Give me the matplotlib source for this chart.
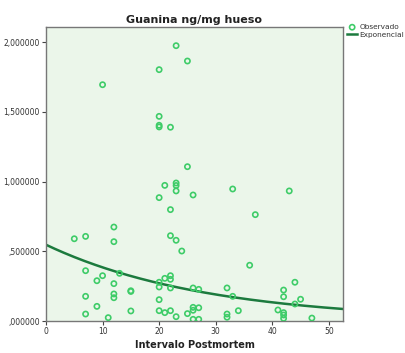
import numpy as np
import matplotlib
matplotlib.use("Agg")
import matplotlib.pyplot as plt
from matplotlib.ticker import FuncFormatter

# Observed data (Intervalo Postmortem, Guanina ng/mg hueso)
pmi = [5, 7, 12, 12, 7, 9, 10, 12, 13, 7, 12, 12, 15, 15, 9, 7, 11, 15,
       10,
       20, 20, 20, 22, 23, 25, 20,
       25, 23, 23, 23, 21, 20, 26, 22, 33, 43, 37,
       22, 23, 24, 21, 22, 22, 20, 20, 22, 20, 20, 21, 22, 23, 25,
       26, 27, 26, 26, 27, 26, 27, 32, 33, 32, 32, 34,
       36, 44, 42, 42, 45, 44, 41, 42, 42, 42, 47]
guanina = [0.590, 0.607, 0.674, 0.569, 0.361, 0.289, 0.325, 0.268, 0.342, 0.177,
           0.194, 0.167, 0.217, 0.212, 0.105, 0.050, 0.024, 0.072,
           1.695,
           1.803, 1.468, 1.404, 1.390, 1.975, 1.865, 1.392,
           1.107, 0.990, 0.972, 0.933, 0.973, 0.885, 0.904, 0.799, 0.947, 0.933, 0.763,
           0.612, 0.579, 0.502, 0.306, 0.325, 0.299, 0.278, 0.244, 0.237, 0.153, 0.074,
           0.060, 0.074, 0.031, 0.053,
           0.237, 0.227, 0.098, 0.077, 0.095, 0.012, 0.012, 0.237, 0.177, 0.050, 0.027,
           0.074,
           0.400, 0.278, 0.222, 0.174, 0.156, 0.122, 0.079, 0.060, 0.043, 0.019, 0.021]

# Exponential fit y = a * exp(b * x)
fit_a = 0.547
fit_b = -0.0352

title = "Guanina ng/mg hueso"
xlabel = "Intervalo Postmortem"
legend_labels = ["Observado", "Exponencial"]
xticks = [0, 10, 20, 30, 40, 50]
yticks = [0.0, 0.5, 1.0, 1.5, 2.0]

fig = plt.figure(figsize=(4.06, 3.53), dpi=100)
fig.patch.set_facecolor("white")
ax = fig.add_axes([46/406, 1-321/353, (343-46)/406, (321-27)/353])
ax.set_facecolor("#ebf6ea")

xmin, xmax = 0, 52.5
ymin, ymax = 0, 2.109
ax.set_xlim(xmin, xmax)
ax.set_ylim(ymin, ymax)

pt = ax.scatter(pmi, guanina, s=14, facecolors="none", edgecolors="#3ecc68",
                linewidths=1.2, zorder=3)
xs = np.linspace(xmin, xmax, 200)
ln, = ax.plot(xs, fit_a*np.exp(fit_b*xs), color="#1c7a3e", lw=1.8, zorder=2)

ax.set_xticks(xticks)
ax.set_yticks(yticks)
def yfmt(v, p):
    s = "{:,.6f}".format(v)
    ip, dp = s.split(".")
    ip = "" if ip == "0" else ip
    return ip + "," + dp
ax.yaxis.set_major_formatter(FuncFormatter(yfmt))
ax.tick_params(axis="both", labelsize=5.5, length=3, width=0.8, color="#444444",
               labelcolor="#333333", pad=1.5)
for s in ax.spines.values():
    s.set_color("#777777")
    s.set_linewidth(1.0)

ax.set_title(title, fontsize=8, fontweight="bold", pad=3, color="#222222")
ax.set_xlabel(xlabel, fontsize=7, fontweight="bold", labelpad=3, color="#222222")

fig.legend([pt, ln], legend_labels, loc="upper left", bbox_to_anchor=(347/406, 1-24/353),
           frameon=False, fontsize=5.3, handlelength=1.4, handletextpad=0.3,
           labelspacing=0.2, borderaxespad=0, borderpad=0, labelcolor="#333333")

fig.savefig("out.png", dpi=100)
